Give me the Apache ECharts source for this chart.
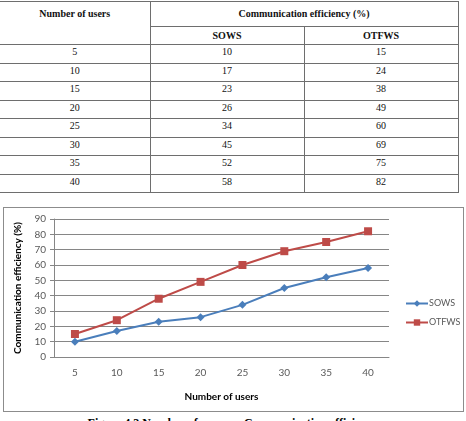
<!DOCTYPE html>
<html>
<head>
<meta charset="utf-8">
<script src="https://cdn.jsdelivr.net/npm/echarts@6/dist/echarts.min.js"></script>
<style>
body{margin:0;width:466px;height:421px;overflow:hidden;background:#fff;position:relative;}
#tbl{position:absolute;left:0;top:1px;width:458px;border-collapse:collapse;font-family:"Liberation Serif","Times New Roman",serif;font-size:10px;color:#111;table-layout:fixed;}
#tbl td,#tbl th{border:1px solid #6e6e6e;text-align:center;padding:0;font-family:"Liberation Serif","Times New Roman",serif;}
#tbl th{font-weight:bold;vertical-align:top;}
#tbl tr.b{height:18.5px;}
#tbl td{vertical-align:top;padding-top:1px;line-height:12px;}
#tbl .c0{border-left:none;}
#box{position:absolute;left:3px;top:207px;width:461px;height:205px;border:1px solid #8c8c8c;box-sizing:border-box;}
#chart{width:459px;height:203px;}
#cap{position:absolute;left:0;top:416px;width:466px;text-align:center;font-family:"Liberation Serif","Times New Roman",serif;font-weight:bold;font-size:12px;line-height:14px;}
</style>
</head>
<body>
<table id="tbl"></table>
<div id="box"><div id="chart"></div></div>
<div id="cap">Figure 4.3 Number of users vs Communication efficiency</div>
<script>
// 数据
var users = ['5', '10', '15', '20', '25', '30', '35', '40'];
var sows = [10, 17, 23, 26, 34, 45, 52, 58];
var otfws = [15, 24, 38, 49, 60, 69, 75, 82];
var seriesNames = ['SOWS', 'OTFWS'];

// 表格
var html = '<colgroup><col style="width:150px"><col style="width:154px"><col style="width:154px"></colgroup>'
    + '<tr style="height:24px"><th class="c0" rowspan="2" style="line-height:24px">Number of users</th>'
    + '<th colspan="2" style="line-height:24px">Communication efficiency (%)</th></tr>'
    + '<tr style="height:17px"><th style="line-height:17px">' + seriesNames[0] + '</th>'
    + '<th style="line-height:17px">' + seriesNames[1] + '</th></tr>';
for (var i = 0; i < users.length; i++) {
    html += '<tr class="b"><td class="c0">' + users[i] + '</td><td>' + sows[i] + '</td><td>' + otfws[i] + '</td></tr>';
}
document.getElementById('tbl').innerHTML = html;

var chart = echarts.init(document.getElementById('chart'));
var font = 'Lato, "Open Sans", sans-serif';
var option = {
    animation: false,
    grid: {
        left: 50,
        top: 11,
        width: 335,
        height: 138
    },
    legend: {
        orient: 'vertical',
        left: 396,
        top: 86,
        itemWidth: 22,
        itemHeight: 8,
        itemGap: 10,
        textStyle: {
            fontFamily: font,
            fontSize: 9,
            color: '#595959',
            padding: [0, 0, 0, -4]
        },
        data: seriesNames
    },
    xAxis: {
        type: 'category',
        data: users,
        boundaryGap: true,
        name: 'Number of users',
        nameLocation: 'middle',
        nameGap: 35,
        nameTextStyle: {fontFamily: font, fontSize: 10, fontWeight: 'bold', color: '#000'},
        axisLine: {lineStyle: {color: '#868686', width: 1}},
        axisTick: {show: false},
        axisLabel: {fontFamily: font, fontSize: 10, color: '#595959', margin: 11}
    },
    yAxis: {
        type: 'value',
        min: 0,
        max: 90,
        interval: 10,
        name: 'Communication efficiency (%)',
        nameLocation: 'middle',
        nameGap: 31,
        nameTextStyle: {fontFamily: font, fontSize: 10, fontWeight: 'bold', color: '#000'},
        axisLine: {show: true, lineStyle: {color: '#868686', width: 1}},
        axisTick: {show: true, length: 4, lineStyle: {color: '#868686'}},
        axisLabel: {fontFamily: font, fontSize: 10, color: '#595959', margin: 8},
        splitLine: {lineStyle: {color: '#868686', width: 1}}
    },
    series: [
        {
            name: seriesNames[0],
            type: 'line',
            data: sows,
            symbol: 'diamond',
            symbolSize: 8,
            color: '#4a7ebb',
            lineStyle: {width: 2}
        },
        {
            name: seriesNames[1],
            type: 'line',
            data: otfws,
            symbol: 'rect',
            symbolSize: 8,
            color: '#be4b48',
            lineStyle: {width: 2}
        }
    ]
};
chart.setOption(option);
</script>
</body>
</html>
